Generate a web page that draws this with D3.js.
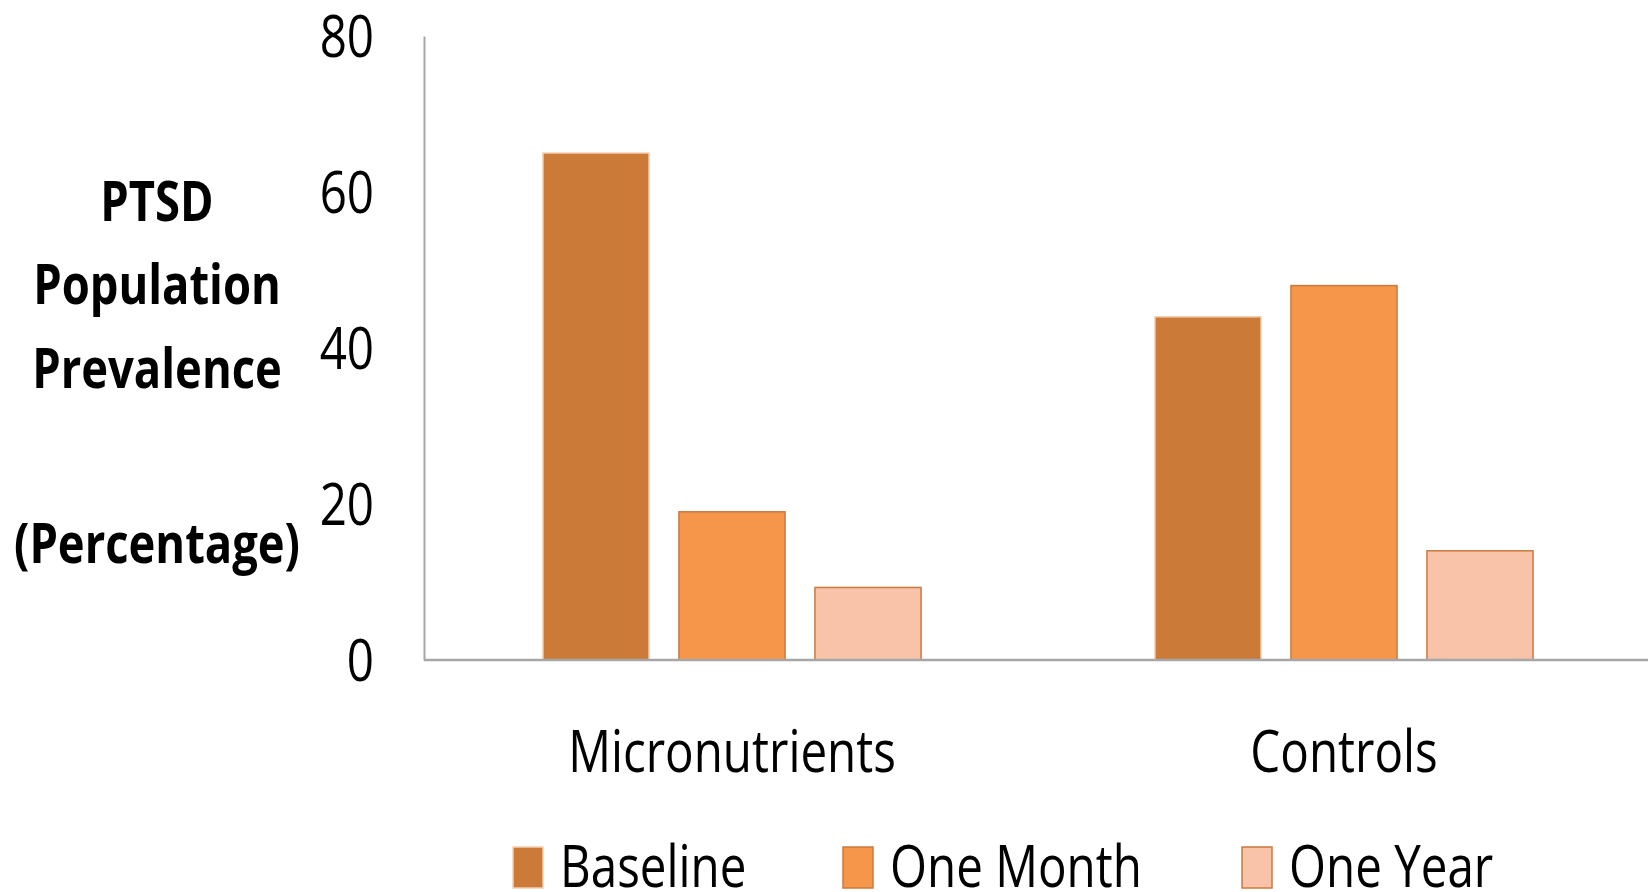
<!DOCTYPE html>
<html>
<head>
<meta charset="utf-8">
<script src="https://cdn.jsdelivr.net/npm/d3@7"></script>
<style>
  html, body { margin: 0; padding: 0; background: #fff; }
  svg { display: block; }
  text { font-family: "Open Sans", "Noto Sans", sans-serif; fill: #000; }
</style>
</head>
<body>
<svg id="chart" width="1648" height="892"></svg>
<script>
// PTSD prevalence (%) by group and time point
const groups = ["Micronutrients", "Controls"];
const seriesNames = ["Baseline", "One Month", "One Year"];
const baseline = [65, 44];
const oneMonth = [19, 48];
const oneYear = [9.3, 14];
const yTicks = [0, 20, 40, 60, 80];
const yTitleLines = ["PTSD", "Population", "Prevalence", "(Percentage)"];

const fills = ["#CB7A38", "#F5964A", "#F9C3A9"];
const strokes = ["#F3CFB2", "#C97A3E", "#C97A3E"];

const seriesValues = [baseline, oneMonth, oneYear];
const rows = groups.map((g, i) => ({
  group: g,
  values: seriesNames.map((s, k) => ({ series: s, k, value: seriesValues[k][i] }))
}));

const svg = d3.select("#chart");
const margin = { left: 424, right: 0, top: 36, bottom: 232 };
const W = 1648, H = 892;

// condensed look of the typeface
const SX = 0.82;
const TICK_GAP = 50;

const x0 = d3.scaleBand().domain(groups).range([margin.left, W - margin.right]).padding(0);
const x1 = d3.scaleBand().domain(seriesNames).range([0, x0.bandwidth()])
  .paddingInner(0.22).paddingOuter(0.86);
const y = d3.scaleLinear().domain([0, 80]).range([H - margin.bottom, margin.top]);

// bars
const g = svg.append("g");
g.selectAll("g.grp").data(rows).join("g")
  .attr("class", "grp")
  .attr("transform", d => `translate(${x0(d.group) + 2},0)`)
  .selectAll("rect").data(d => d.values).join("rect")
  .attr("x", d => x1(d.series))
  .attr("y", d => y(d.value))
  .attr("width", x1.bandwidth())
  .attr("height", d => y(0) - y(d.value))
  .attr("fill", d => fills[d.k])
  .attr("stroke", d => strokes[d.k])
  .attr("stroke-width", 1.5);

// y axis
const yAxis = svg.append("g")
  .attr("transform", `translate(${margin.left},0)`)
  .call(d3.axisLeft(y).tickValues(yTicks).tickSize(0).tickPadding(TICK_GAP));
yAxis.select(".domain").attr("stroke", "#A6A6A6").attr("stroke-width", 2);
yAxis.selectAll(".tick text")
  .attr("font-family", "Open Sans")
  .attr("font-size", 58)
  .attr("fill", "#000")
  .attr("dy", "0.36em")
  .attr("transform", `scale(${SX},1)`)
  .attr("x", -TICK_GAP / SX);

// x axis baseline
svg.append("line")
  .attr("x1", margin.left).attr("x2", W)
  .attr("y1", y(0)).attr("y2", y(0))
  .attr("stroke", "#A6A6A6").attr("stroke-width", 2.5);

function condensedText(sel, x, yPos, txt, size, weight, sx) {
  return sel.append("text")
    .attr("transform", `translate(${x},${yPos}) scale(${sx},1)`)
    .attr("text-anchor", "middle")
    .attr("font-size", size)
    .attr("font-weight", weight)
    .text(txt);
}

// category labels
groups.forEach(gName => {
  condensedText(svg, x0(gName) + x0.bandwidth() / 2 + 2, 772, gName, 58, 400, SX);
});

// y axis title
const titleBaselines = [221, 304, 388, 563];
yTitleLines.forEach((t, i) => {
  condensedText(svg, 157, titleBaselines[i], t, 56, 700, 0.81);
});

// legend
const legendX = [513, 843, 1242];
const legend = svg.append("g");
seriesNames.forEach((s, k) => {
  legend.append("rect")
    .attr("x", legendX[k]).attr("y", 847)
    .attr("width", 30).attr("height", 41)
    .attr("fill", fills[k])
    .attr("stroke", strokes[k]).attr("stroke-width", 1.5);
  legend.append("text")
    .attr("transform", `translate(${legendX[k] + 47},887) scale(${SX},1)`)
    .attr("font-size", 58)
    .text(s);
});
</script>
</body>
</html>
